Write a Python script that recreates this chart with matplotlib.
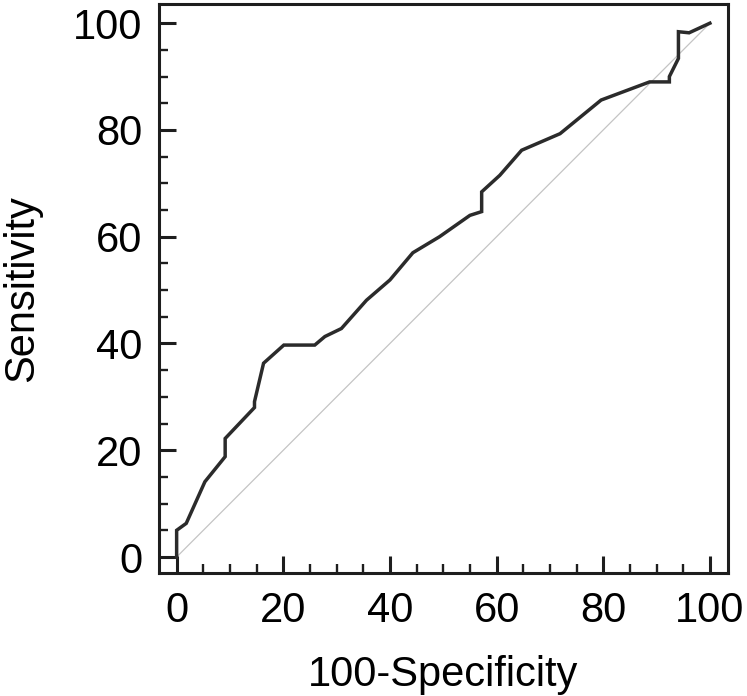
import matplotlib
matplotlib.use("Agg")
import matplotlib.pyplot as plt
from matplotlib.ticker import MultipleLocator

plt.rcParams['font.family'] = ['Liberation Sans', 'DejaVu Sans']

# ROC curve points (100-Specificity, Sensitivity)
fpr = [0, 0, 1.8, 5.3, 9.1, 9.1, 14.6, 14.6, 16.3, 20.1, 25.9, 27.8, 30.9,
       35.6, 40.0, 44.3, 49.3, 55.0, 57.2, 57.2, 60.6, 64.7, 71.9, 79.6,
       88.7, 92.4, 92.4, 94.1, 94.1, 96.1, 100]
tpr = [0, 5.0, 6.3, 14.1, 18.8, 22.2, 28.0, 29.1, 36.3, 39.7, 39.7, 41.3, 42.8,
       48.1, 51.9, 57.0, 60.0, 64.0, 64.7, 68.4, 71.5, 76.2, 79.3, 85.6,
       89.0, 89.0, 90.0, 93.4, 98.4, 98.2, 100]

diag = [0, 100]

fig = plt.figure(figsize=(7.47, 6.96), dpi=100)
ax = fig.add_axes([0.2129, 0.1767, 0.7617, 0.8176])

ax.plot(diag, diag, color='#c4c4c4', lw=0.9, zorder=1)
ax.plot(fpr, tpr, color='#2b2b2b', lw=2.5, solid_joinstyle='miter', zorder=2)

ax.set_xlim(-3.3, 103.4)
ax.set_ylim(-3.0, 103.6)

ax.xaxis.set_major_locator(MultipleLocator(20))
ax.xaxis.set_minor_locator(MultipleLocator(5))
ax.yaxis.set_major_locator(MultipleLocator(20))
ax.yaxis.set_minor_locator(MultipleLocator(5))

ax.tick_params(which='both', direction='in', top=False, right=False,
               labelsize=30, color='#1e1e1e')
ax.tick_params(axis='x', which='major', length=12.5, width=2.2, pad=13)
ax.tick_params(axis='y', which='major', length=12.5, width=2.2, pad=12)
ax.tick_params(which='minor', length=6.5, width=1.7)

for s in ax.spines.values():
    s.set_linewidth(2.2)
    s.set_color('#1e1e1e')

ax.set_xlabel('100-Specificity', fontsize=30, labelpad=17)
ax.set_ylabel('Sensitivity', fontsize=30, labelpad=22)

fig.savefig('out.png', dpi=100)
